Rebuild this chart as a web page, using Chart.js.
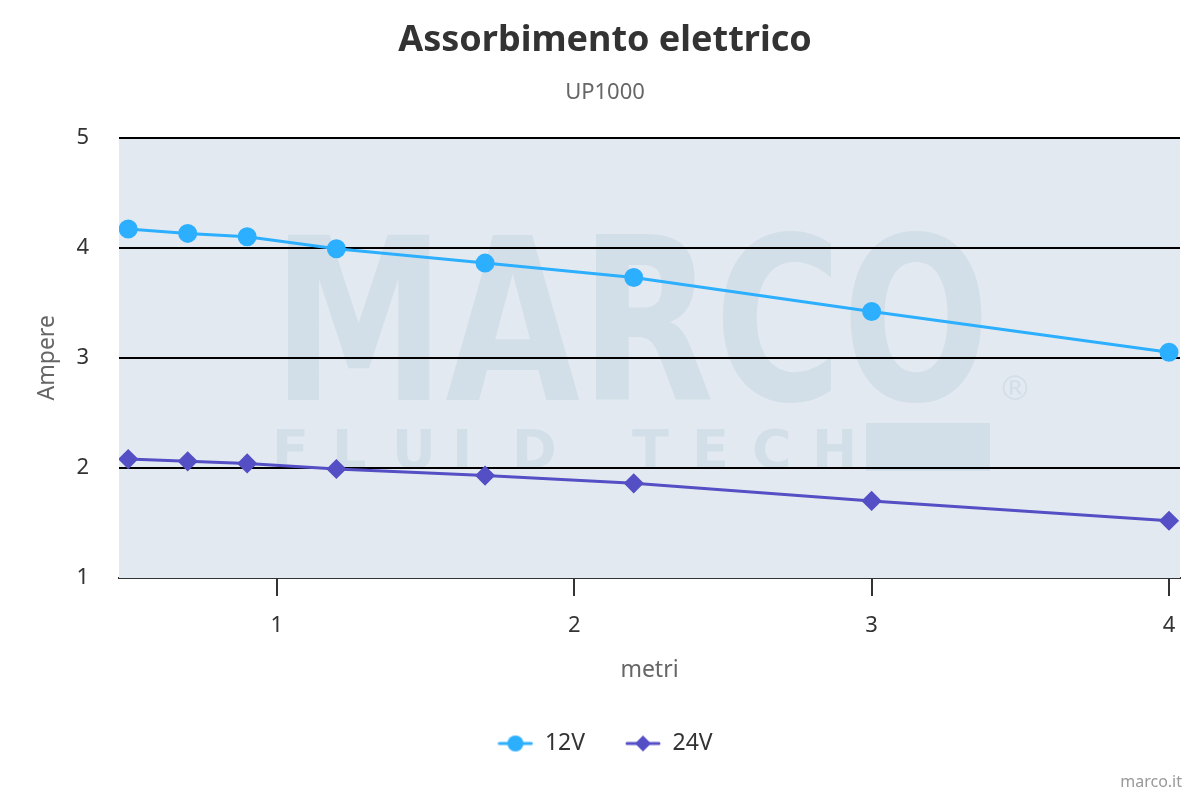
<!DOCTYPE html>
<html>
<head>
<meta charset="utf-8">
<script src="https://cdn.jsdelivr.net/npm/chart.js@4.4.1/dist/chart.umd.min.js"></script>
<style>
  html, body { margin: 0; padding: 0; background: #fff; }
  #wrap { width: 1200px; height: 800px; position: relative; }
</style>
</head>
<body>
<div id="wrap"><canvas id="ampChart" width="1200" height="800"></canvas></div>
<script>
const metri = [0.5, 0.7, 0.9, 1.2, 1.7, 2.2, 3, 4];
const ampere12V = [4.17, 4.13, 4.10, 3.99, 3.86, 3.73, 3.42, 3.05];
const ampere24V = [2.08, 2.06, 2.04, 1.99, 1.93, 1.86, 1.70, 1.52];
const xTicks = [1, 2, 3, 4];
const yTicks = [1, 2, 3, 4, 5];

const FONT = "'Noto Sans', 'Open Sans', sans-serif";
const BLUE = '#2caffe';
const PURPLE = '#544fc5';

// legend symbol: short line with the marker in the middle
function legendSymbol(color, shape) {
  const c = document.createElement('canvas');
  c.width = 36; c.height = 18;
  const g = c.getContext('2d');
  g.strokeStyle = color; g.lineWidth = 3; g.lineCap = 'round';
  g.beginPath(); g.moveTo(2, 9); g.lineTo(34, 9); g.stroke();
  g.fillStyle = color;
  g.beginPath();
  if (shape === 'circle') {
    g.arc(18, 9, 8, 0, Math.PI * 2);
  } else {
    g.moveTo(18, 1); g.lineTo(26, 9); g.lineTo(18, 17); g.lineTo(10, 9); g.closePath();
  }
  g.fill();
  return c;
}

const plotBg = {
  id: 'plotBg',
  beforeDatasetsDraw(chart) {
    const { ctx, chartArea: a } = chart;
    ctx.save();
    ctx.fillStyle = '#e3e9f0';
    ctx.fillRect(a.left, a.top, a.right - a.left, a.bottom - a.top);
    // watermark
    ctx.beginPath();
    ctx.rect(a.left, a.top, a.right - a.left, a.bottom - a.top);
    ctx.clip();
    ctx.fillStyle = '#d3dfe8';
    ctx.textBaseline = 'alphabetic';
    ctx.font = "bold 200px 'DejaVu Sans'";
    const w = ctx.measureText('MARCO').width;
    ctx.save();
    ctx.translate(272, 400);
    ctx.scale(718 / w, 165 / 146);
    ctx.fillText('MARCO', 0, 0);
    ctx.restore();
    ctx.font = "bold 54px 'DejaVu Sans'";
    'FLUID TECH'.split('').forEach((ch, i) => ctx.fillText(ch, 272 + i * 60, 468));
    ctx.fillRect(866, 423, 124, 48);
    ctx.font = "34px 'DejaVu Sans'";
    ctx.fillText('®', 998, 400);
    ctx.restore();
    // horizontal grid lines over the watermark
    const y = chart.scales.y;
    ctx.save();
    ctx.strokeStyle = '#000';
    ctx.lineWidth = 2;
    yTicks.filter(v => v > 1).forEach(v => {
      const py = Math.round(y.getPixelForValue(v));
      ctx.beginPath(); ctx.moveTo(a.left, py); ctx.lineTo(a.right, py); ctx.stroke();
    });
    ctx.restore();
  },
  afterDraw(chart) {
    const { ctx } = chart;
    ctx.save();
    ctx.fillStyle = '#999';
    ctx.font = "16px " + FONT;
    ctx.textAlign = 'right';
    ctx.textBaseline = 'middle';
    ctx.fillText('marco.it', 1182, 782);
    ctx.restore();
  }
};

new Chart(document.getElementById('ampChart'), {
  type: 'line',
  data: {
    datasets: [
      {
        label: '12V',
        data: metri.map((x, i) => ({ x, y: ampere12V[i] })),
        borderColor: BLUE,
        backgroundColor: BLUE,
        borderWidth: 3,
        pointStyle: 'circle',
        pointRadius: 8,
        pointHoverRadius: 8,
        legendSymbol: legendSymbol(BLUE, 'circle')
      },
      {
        label: '24V',
        data: metri.map((x, i) => ({ x, y: ampere24V[i] })),
        borderColor: PURPLE,
        backgroundColor: PURPLE,
        borderWidth: 3,
        pointStyle: 'rectRot',
        pointRadius: 8,
        pointHoverRadius: 8,
        legendSymbol: legendSymbol(PURPLE, 'diamond')
      }
    ]
  },
  options: {
    responsive: false,
    animation: false,
    layout: { padding: { left: 30, right: 20, bottom: 35 } },
    plugins: {
      title: {
        display: true,
        text: 'Assorbimento elettrico',
        color: '#333',
        font: { family: FONT, size: 36, weight: 'bold' },
        padding: { top: 19, bottom: 17 }
      },
      subtitle: {
        display: true,
        text: 'UP1000',
        color: '#666',
        font: { family: FONT, size: 22 },
        padding: { top: 0, bottom: 32 }
      },
      legend: {
        position: 'bottom',
        labels: {
          color: '#333',
          font: { family: FONT, size: 23 },
          usePointStyle: true,
          pointStyleWidth: 36,
          padding: 40,
          generateLabels(chart) {
            const items = Chart.defaults.plugins.legend.labels.generateLabels(chart);
            items.forEach(it => { it.pointStyle = chart.data.datasets[it.datasetIndex].legendSymbol; });
            return items;
          }
        }
      },
      tooltip: { enabled: false }
    },
    scales: {
      x: {
        type: 'linear',
        min: 0.469,
        max: 4.037,
        afterBuildTicks(axis) { axis.ticks = xTicks.map(v => ({ value: v })); },
        border: { color: '#333', width: 2 },
        grid: { drawOnChartArea: false, drawTicks: true, tickLength: 18, color: '#333', lineWidth: 2 },
        ticks: { color: '#333', font: { family: FONT, size: 22 }, padding: 17 },
        title: { display: true, text: 'metri', color: '#666', font: { family: FONT, size: 23 }, padding: { top: 0, bottom: 8 } }
      },
      y: {
        type: 'linear',
        min: 1,
        max: 5,
        afterBuildTicks(axis) { axis.ticks = yTicks.map(v => ({ value: v })); },
        afterFit(axis) { axis.width = 89; },
        border: { display: false },
        grid: { drawTicks: false, color: ctx => (ctx.tick && ctx.tick.value > 1 ? '#000' : 'rgba(0,0,0,0)'), lineWidth: 2 },
        ticks: { color: '#333', font: { family: FONT, size: 22 }, padding: 30 },
        title: { display: true, text: 'Ampere', color: '#666', font: { family: FONT, size: 23 }, padding: { bottom: 4 } }
      }
    }
  },
  plugins: [plotBg]
});
</script>
</body>
</html>
